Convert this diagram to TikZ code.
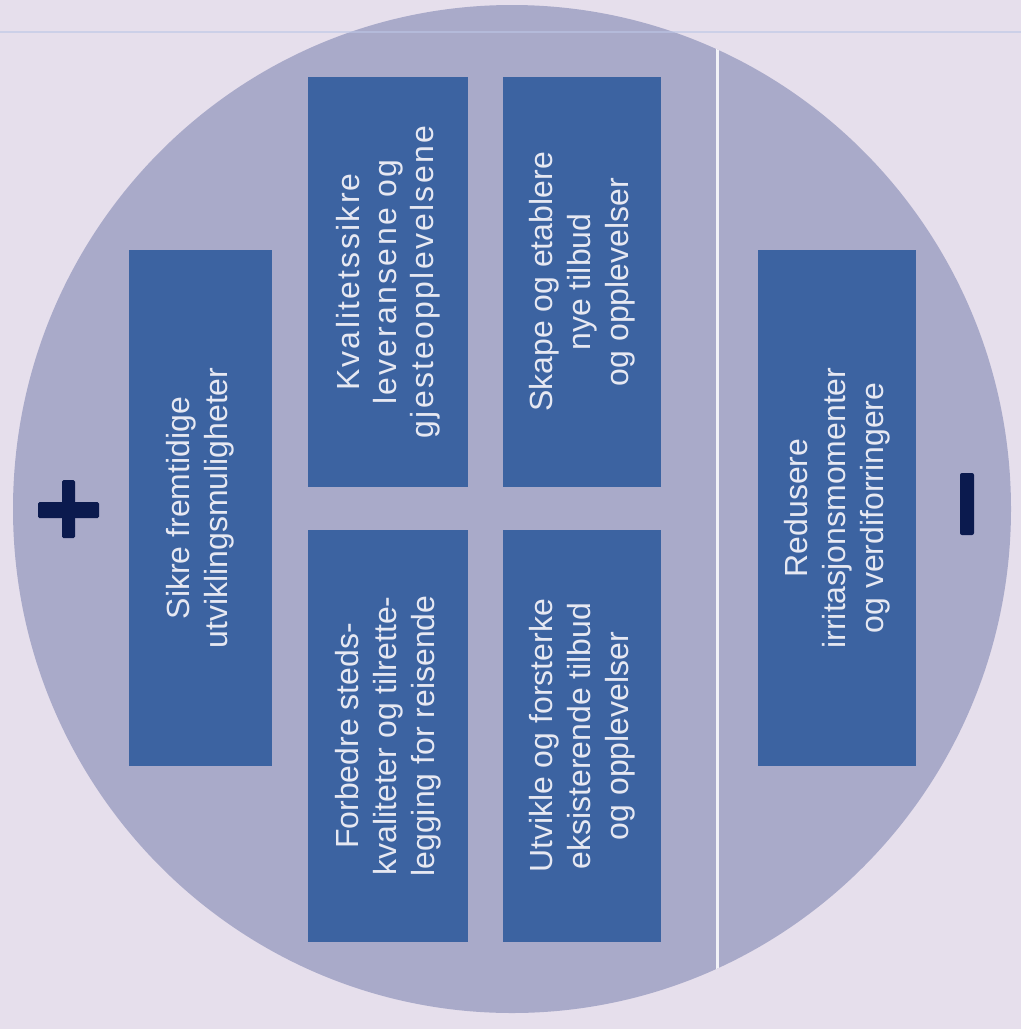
\documentclass[tikz,border=0pt]{standalone}
\usepackage{fontspec}
\setmainfont{Liberation Sans}
\definecolor{bgc}{HTML}{E6DFEC}
\definecolor{circc}{HTML}{A9AAC9}
\definecolor{boxc}{HTML}{3C63A1}
\definecolor{txtc}{HTML}{E6E8F2}
\definecolor{signc}{HTML}{0B1A4E}
\definecolor{rulec}{HTML}{BCC6E6}
\begin{document}
\begin{tikzpicture}[x=1pt,y=-1pt,
  box/.style={fill=boxc, draw=none, rotate=90, align=center, text=txtc,
    font=\fontsize{32}{38}\selectfont, inner sep=0pt}]
\useasboundingbox (0,0) rectangle (1021,1029);
\fill[bgc] (0,0) rectangle (1021,1029);
\fill[circc] (512,509) ellipse [x radius=499, y radius=504];
\begin{scope}
  \clip (512,509) ellipse [x radius=499, y radius=504];
  \draw[white!85!circc, line width=3pt] (717,0) -- (717,1029);
\end{scope}
\draw[rulec, line width=2pt, opacity=0.6] (0,32) -- (1021,32);
\node[box, minimum width=516, minimum height=143] (b1) at (200.5,508)
  {Sikre fremtidige\\utviklingsmuligheter};
\node[box, minimum width=410, minimum height=160,
  font=\fontsize{32}{37}\selectfont\addfontfeatures{LetterSpace=7}] (b2) at (388,282)
  {Kvalitetssikre\\leveransene og\\gjesteopplevelsene};
\node[box, minimum width=410, minimum height=158] (b3) at (582,282)
  {Skape og etablere\\nye tilbud\\og opplevelser};
\node[box, minimum width=412, minimum height=160] (b4) at (388,736)
  {Forbedre steds-\\kvaliteter og tilrette-\\legging for reisende};
\node[box, minimum width=412, minimum height=158] (b5) at (582,736)
  {Utvikle og forsterke\\eksisterende tilbud\\og opplevelser};
\node[box, minimum width=516, minimum height=158] (b6) at (837,508)
  {Redusere\\irritasjonsmomenter\\og verdiforringere};
% plus sign
\fill[signc, rounded corners=1.5pt] (62,480) rectangle (75,538);
\fill[signc, rounded corners=1.5pt] (38,502) rectangle (99,518);
% minus sign (vertical bar)
\fill[signc, rounded corners=2pt] (960,473) rectangle (974,535);
\end{tikzpicture}
\end{document}
